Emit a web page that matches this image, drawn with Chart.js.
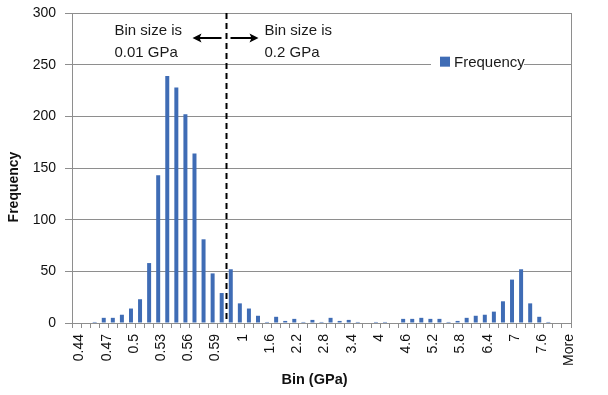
<!DOCTYPE html>
<html>
<head>
<meta charset="utf-8">
<script src="https://cdn.jsdelivr.net/npm/chart.js@4/dist/chart.umd.min.js"></script>
<style>
html,body{margin:0;padding:0;background:#fff;}
#wrap{width:608px;height:395px;position:relative;}
</style>
</head>
<body>
<div id="wrap"><canvas id="c" width="608" height="395"></canvas></div>
<script>
const categories = ['0.44','0.45','0.46','0.47','0.48','0.49','0.5','0.51','0.52','0.53','0.54','0.55','0.56','0.57','0.58','0.59','0.6',
  '0.8','1','1.2','1.4','1.6','1.8','2','2.2','2.4','2.6','2.8','3','3.2','3.4','3.6','3.8','4','4.2','4.4','4.6','4.8','5','5.2','5.4','5.6','5.8','6','6.2','6.4','6.6','6.8','7','7.2','7.4','7.6','7.8','8','More'];
const frequency = [0,0,1,5,5,8,14,23,58,143,239,228,202,164,81,48,29,
  52,19,14,7,1,6,2,4,1,3,1,5,2,3,1,0,1,1,0,4,4,5,4,4,1,2,5,7,8,11,21,42,52,19,6,1,0,0];
const yTicks = [0,50,100,150,200,250,300];
const seriesName = 'Frequency';
const xTitle = 'Bin (GPa)';
const yTitle = 'Frequency';
const leftNote = ['Bin size is','0.01 GPa'];
const rightNote = ['Bin size is','0.2 GPa'];
const splitAfter = '0.6';

const FONT = "'Liberation Sans Narrow', 'Liberation Sans', Arial, sans-serif";
const GRID = '#8e8e8e';
const BAR = '#3f6cb5';

const overlay = {
  id: 'overlay',
  afterDatasetsDraw(chart) {
    const ctx = chart.ctx;
    const xs = chart.scales.x, ca = chart.chartArea;
    const i = categories.indexOf(splitAfter);
    const dx = Math.round((xs.getPixelForValue(i) + xs.getPixelForValue(i + 1)) / 2) + 0.5;
    ctx.save();
    // dashed divider
    ctx.strokeStyle = '#000';
    ctx.lineWidth = 2;
    ctx.setLineDash([6, 4]);
    ctx.beginPath();
    ctx.moveTo(dx, ca.top);
    ctx.lineTo(dx, ca.bottom);
    ctx.stroke();
    ctx.setLineDash([]);
    // notes
    ctx.fillStyle = '#1a1a1a';
    ctx.font = '15px ' + FONT;
    ctx.textBaseline = 'alphabetic';
    ctx.textAlign = 'left';
    const y1 = ca.top + 22, y2 = ca.top + 44;
    ctx.fillText(leftNote[0], dx - 112, y1);
    ctx.fillText(leftNote[1], dx - 112, y2);
    ctx.fillText(rightNote[0], dx + 38, y1);
    ctx.fillText(rightNote[1], dx + 38, y2);
    // arrows
    const ay = ca.top + 25;
    function arrow(x0, x1) {
      const d = Math.sign(x1 - x0);
      ctx.strokeStyle = '#000';
      ctx.lineWidth = 2;
      ctx.beginPath();
      ctx.moveTo(x0, ay);
      ctx.lineTo(x1 - d * 3, ay);
      ctx.stroke();
      ctx.fillStyle = '#000';
      ctx.beginPath();
      ctx.moveTo(x1, ay);
      ctx.lineTo(x1 - d * 9, ay - 4.5);
      ctx.lineTo(x1 - d * 7, ay);
      ctx.lineTo(x1 - d * 9, ay + 4.5);
      ctx.closePath();
      ctx.fill();
    }
    arrow(dx - 5, dx - 34);
    arrow(dx + 4, dx + 32);
    // legend
    const ly = chart.scales.y.getPixelForValue(250);
    const lx = ca.right - 140;
    ctx.fillStyle = '#fff';
    ctx.fillRect(lx, ly - 8, 93, 15);
    ctx.fillStyle = BAR;
    ctx.fillRect(lx + 9, ly - 8, 10, 10);
    ctx.fillStyle = '#1a1a1a';
    ctx.font = '15px ' + FONT;
    ctx.textBaseline = 'middle';
    ctx.fillText(seriesName, lx + 23, ly - 2);
    // axis titles
    ctx.fillStyle = '#111';
    ctx.font = 'bold 14.5px ' + FONT;
    ctx.textAlign = 'center';
    ctx.textBaseline = 'alphabetic';
    ctx.fillText(xTitle, (ca.left + ca.right) / 2 - 7, chart.height - 11);
    ctx.save();
    ctx.translate(14, (ca.top + ca.bottom) / 2 + 19);
    ctx.rotate(-Math.PI / 2);
    ctx.font = 'bold 14px ' + FONT;
    ctx.textBaseline = 'middle';
    ctx.fillText(yTitle, 0, 0);
    ctx.restore();
    ctx.restore();
  }
};

new Chart(document.getElementById('c'), {
  type: 'bar',
  data: {
    labels: categories,
    datasets: [{
      label: seriesName,
      data: frequency,
      backgroundColor: BAR,
      borderWidth: 0,
      barPercentage: 0.44,
      categoryPercentage: 1.0
    }]
  },
  options: {
    responsive: false,
    animation: false,
    layout: { padding: { top: 0, left: 0, right: 0, bottom: 0 } },
    plugins: { legend: { display: false }, tooltip: { enabled: false } },
    scales: {
      x: {
        grid: { display: true, drawOnChartArea: false, color: GRID, tickLength: 5, offset: true },
        border: { color: GRID },
        ticks: {
          autoSkip: false, maxRotation: 90, minRotation: 90, padding: 6, labelOffset: 3,
          color: '#111', font: { family: FONT, size: 14 },
          callback: (v, i) => (i % 3 === 0 ? categories[i] : '')
        },
        title: { display: false },
        afterFit: s => { s.height = 72; s.paddingLeft = 0; s.paddingRight = 0; }
      },
      y: {
        min: 0, max: 300,
        afterBuildTicks: s => { s.ticks = yTicks.map(v => ({ value: v })); },
        grid: { color: GRID, tickLength: 7 },
        border: { color: GRID },
        ticks: { padding: 9, color: '#111', font: { family: FONT, size: 14 } },
        title: { display: false },
        afterFit: s => { s.width = 72; s.paddingTop = 13; s.paddingBottom = 0; }
      },
      y2: {
        position: 'right', min: 0, max: 300,
        grid: { display: false },
        border: { color: GRID },
        ticks: { display: false },
        afterFit: s => { s.width = 37; }
      }
    }
  },
  plugins: [overlay]
});
</script>
</body>
</html>
